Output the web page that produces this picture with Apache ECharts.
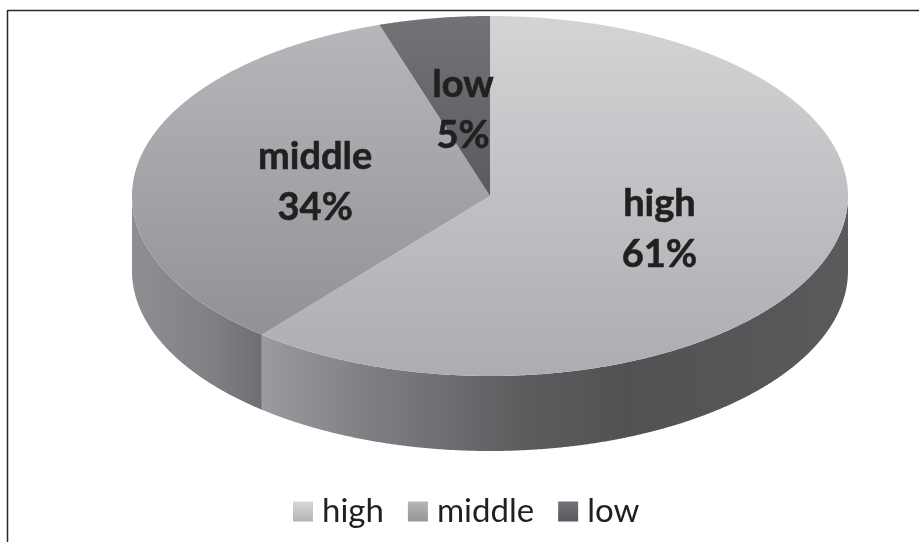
<!DOCTYPE html>
<html>
<head>
<meta charset="utf-8">
<style>html,body{margin:0;padding:0;background:#fff}#c{width:919px;height:542px}</style>
<script src="https://cdn.jsdelivr.net/npm/echarts@6/dist/echarts.min.js"></script>
</head>
<body>
<div id="c"></div>
<script>
const categories = ['high', 'middle', 'low'];
const values = [61, 34, 5];
const topColors = [['#d3d4d6', '#acadb0'], ['#b7b8bb', '#8c8d90'], ['#727376', '#5a5b5e']];
const wallStops = [
  [[0, '#9a9b9e'], [0.2, '#7c7d80'], [0.45, '#5c5c5f'], [0.62, '#525254'], [1, '#5a5a5c']],
  [[0, '#8e8f92'], [0.6, '#808184'], [1, '#6e6f72']]
];
const legendColors = [['#d6d7d9', '#b4b5b8'], ['#b5b6b9', '#949598'], ['#727376', '#58595c']];

const cx = 490, cy = 196, rx = 358, ry = 180, depth = 75;
const total = values.reduce((a, b) => a + b, 0);
const pt = (t, dy) => [cx + rx * Math.sin(t), cy - ry * Math.cos(t) + (dy || 0)];

function sampleArc(a, b, dy) {
  const n = Math.max(2, Math.ceil(Math.abs(b - a) / 0.004));
  const out = [];
  for (let i = 0; i <= n; i++) out.push(pt(a + (b - a) * i / n, dy));
  return out;
}

function makeRender(idx) {
  return function (params, api) {
    const before = values.slice(0, idx).reduce((a, b) => a + b, 0);
    const a0 = before / total * 2 * Math.PI;
    const a1 = a0 + api.value(0) / total * 2 * Math.PI;
    const children = [];
    // Front wall: visible only for the part of the rim facing the viewer
    const w0 = Math.max(a0, Math.PI / 2), w1 = Math.min(a1, Math.PI * 1.5);
    if (w1 > w0) {
      const upper = sampleArc(w0, w1, 0);
      const lower = sampleArc(w1, w0, depth);
      const pts = upper.concat(lower);
      const xs = pts.map(p => p[0]);
      children.push({
        type: 'polygon',
        shape: { points: pts },
        style: {
          fill: {
            type: 'linear', global: true,
            x: Math.min.apply(null, xs), y: 0, x2: Math.max.apply(null, xs), y2: 0,
            colorStops: wallStops[idx].map(s => ({ offset: s[0], color: s[1] }))
          }
        }
      });
    }
    // Top face
    const face = [[cx, cy]].concat(sampleArc(a0, a1, 0));
    children.push({
      type: 'polygon',
      shape: { points: face },
      style: {
        fill: {
          type: 'linear', global: true,
          x: 0, y: cy - ry, x2: 0, y2: idx === 2 ? cy : cy + ry,
          colorStops: [{ offset: 0, color: topColors[idx][0] }, { offset: 1, color: topColors[idx][1] }]
        }
      }
    });
    // Label at half the radius along the slice's middle angle
    const mid = (a0 + a1) / 2;
    children.push({
      type: 'text',
      style: {
        x: cx + rx * 0.5 * Math.sin(mid) + 1,
        y: cy - ry * 0.5 * Math.cos(mid) + 3,
        text: categories[idx] + '\n' + Math.round(api.value(0) / total * 100) + '%',
        font: 'bold 38px Lato',
        lineHeight: 51,
        fill: '#231f20',
        stroke: '#231f20',
        lineWidth: 0.6,
        align: 'center',
        verticalAlign: 'middle'
      }
    });
    return { type: 'group', children: children };
  };
}

const chart = echarts.init(document.getElementById('c'), null, { renderer: 'canvas' });
chart.setOption({
  animation: false,
  backgroundColor: '#ffffff',
  legend: {
    left: 288, top: 490, icon: 'rect', itemWidth: 20, itemHeight: 20, itemGap: 24,
    selectedMode: false,
    textStyle: { fontFamily: 'Lato', fontSize: 33, color: '#231f20', padding: [0, 0, 0, 4] },
    data: categories.map((name, i) => ({
      name,
      itemStyle: {
        color: { type: 'linear', x: 0, y: 0, x2: 0, y2: 1,
          colorStops: [{ offset: 0, color: legendColors[i][0] }, { offset: 1, color: legendColors[i][1] }] }
      }
    }))
  },
  graphic: [
    { type: 'line', silent: true, shape: { x1: 7.5, y1: 10.5, x2: 919, y2: 10.5 }, style: { stroke: '#2a2a2a', lineWidth: 1.5 } },
    { type: 'line', silent: true, shape: { x1: 7.5, y1: 10, x2: 7.5, y2: 542 }, style: { stroke: '#2a2a2a', lineWidth: 1.5 } }
  ],
  series: categories.map((name, i) => ({
    type: 'custom',
    name,
    coordinateSystem: 'none',
    silent: true,
    clip: false,
    renderItem: makeRender(i),
    data: [[values[i]]]
  }))
});
</script>
</body>
</html>
